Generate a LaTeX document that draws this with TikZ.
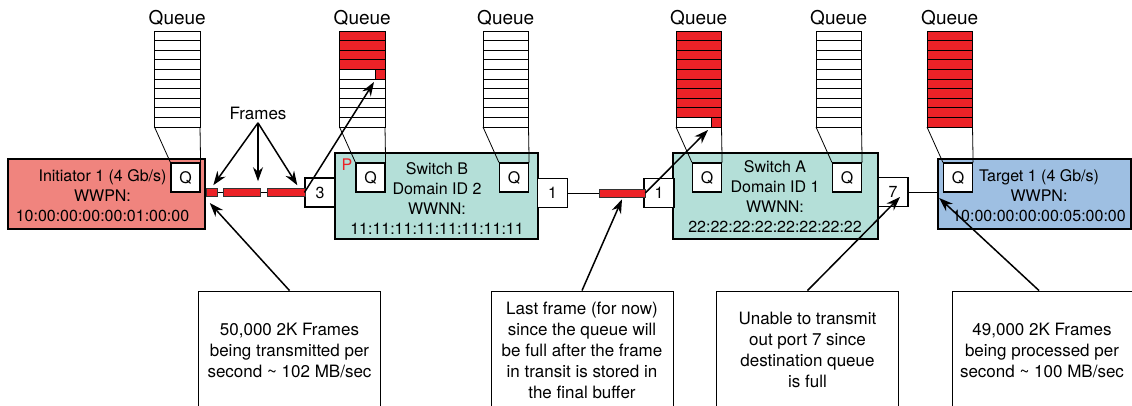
\documentclass[tikz,border=0pt]{standalone}
\usepackage{fontspec}
\setmainfont{TeX Gyre Heros}
\usepackage{tikz}
\usetikzlibrary{positioning,arrows.meta}

\definecolor{initfill}{RGB}{240,132,126}
\definecolor{swfill}{RGB}{180,223,216}
\definecolor{tgtfill}{RGB}{158,191,226}
\definecolor{frred}{RGB}{236,34,39}

\newcommand{\devfont}{\fontsize{16}{20}\selectfont}
\newcommand{\calfont}{\fontsize{17}{21}\selectfont}
\newcommand{\qfont}{\fontsize{19}{22}\selectfont}

\tikzset{
  device/.style={draw, line width=1.6pt, inner sep=0pt},
  devtext/.style={align=center, font=\devfont},
  qbox/.style={draw, fill=white, line width=1.2pt, minimum width=29pt, minimum height=29pt, inner sep=0pt, font=\devfont},
  portbox/.style={qbox, minimum width=30pt},
  frm/.style={draw=black!80, fill=frred, line width=0.6pt, minimum height=8pt, inner sep=0pt},
  qline/.style={line width=0.8pt},
  link/.style={line width=0.8pt},
  pointer/.style={line width=1.5pt, -{Stealth[length=14pt,width=10pt]}},
  callout/.style={draw, line width=0.9pt, minimum width=182pt, minimum height=118pt, inner sep=0pt, align=center, font=\calfont},
}

% #1 Q node, #2 x of Q centre, #3 full rows, #4 part-filled slot (1/0)
\newcommand{\drawqueue}[4]{%
  \pgfmathsetmacro{\ql}{#2-31}
  \pgfmathsetmacro{\qr}{#2+14.5}
  \node[font=\qfont] at ({(\ql+\qr)/2},18) {Queue};
  \foreach \r in {0,...,9}{
    \pgfmathsetmacro{\qt}{31+9.6*\r}
    \ifnum\r<#3\relax \def\qfill{frred}\else \def\qfill{white}\fi
    \draw[qline, fill=\qfill] (\ql,\qt) rectangle (\qr,\qt+9.6);
  }
  \ifnum#4=1\relax
    \draw[qline, fill=frred] (\qr-10,31+9.6*#3) rectangle (\qr,40.6+9.6*#3);
  \fi
  \coordinate (#1-slot) at (\qr-10,40.6+9.6*#3);
  \draw[qline] (\ql,127) -- (#1.north west);
  \draw[qline] (\qr,127) -- (#1.north east);
}

\begin{document}
\begin{tikzpicture}[x=1pt,y=-1pt]
  \useasboundingbox (0,0) rectangle (1132,406);

  \node[device, fill=initfill, minimum width=197pt, minimum height=70pt] (init) at (106.5,194) {};
  \node[device, fill=swfill, minimum width=203pt, minimum height=86pt] (swB) at (436.5,196) {};
  \node[device, fill=swfill, minimum width=205pt, minimum height=86pt] (swA) at (775.5,196) {};
  \node[device, fill=tgtfill, minimum width=193pt, minimum height=70pt] (tgt) at (1034.5,194) {};

  \node[devtext] (initTxt) at (102.5,196) {Initiator 1 (4 Gb/s)\\WWPN:\\10:00:00:00:00:01:00:00};
  \node[devtext] (swBTxt) at (437,199) {Switch B\\Domain ID 2\\WWNN:\\11:11:11:11:11:11:11:11};
  \node[devtext] (swATxt) at (775,196.5) {Switch A\\Domain ID 1\\WWNN:\\22:22:22:22:22:22:22:22};
  \node[devtext] (tgtTxt) at (1039,196) {Target 1 (4 Gb/s)\\WWPN:\\10:00:00:00:00:05:00:00};
  \node[font=\devfont, text=frred] (pMark) at (347,165) {P};

  \node[portbox] (p3) at (320,192.5) {3};
  \node[portbox] (pB1) at (552.5,193) {1};
  \node[portbox] (pA1) at (659,193) {1};
  \node[portbox] (p7) at (893,192) {7};

  \node[qbox] (qI) at (185.5,177.5) {Q};
  \node[qbox] (qB1) at (370.5,177.5) {Q};
  \node[qbox] (qB2) at (514,177.5) {Q};
  \node[qbox] (qA1) at (707,177.5) {Q};
  \node[qbox] (qA2) at (847,177.5) {Q};
  \node[qbox] (qT) at (958,177.5) {Q};

  \drawqueue{qI}{185.5}{0}{0}
  \drawqueue{qB1}{370.5}{4}{1}
  \drawqueue{qB2}{514}{0}{0}
  \drawqueue{qA1}{707}{9}{1}
  \drawqueue{qA2}{847}{0}{0}
  \drawqueue{qT}{958}{10}{0}

  \draw[link] (init.east |- p3.west) -- (p3.west);
  \draw[link] (pB1.east) -- (pA1.west);
  \draw[link] (p7.east) -- (tgt.west |- p7.east);

  \node[frm, minimum width=11pt] (f1) at (211.5,192.5) {};
  \node[frm, minimum width=37pt] (f2) at (241.5,192.5) {};
  \node[frm, minimum width=38pt] (f3) at (286,192.5) {};
  \node[frm, minimum width=46pt] (f4) at (622,193) {};

  \node[font=\calfont] (frLbl) at (258,113) {Frames};
  \draw[pointer] (frLbl.south) -- ([xshift=-4pt,yshift=3pt]f1.north east);
  \draw[pointer] (frLbl.south) -- ([yshift=7pt]frLbl.south |- f2.north);
  \draw[pointer] (frLbl.south) -- ([xshift=-8pt,yshift=3pt]f3.north east);

  \draw[pointer] (p3.west) -- ([xshift=-1pt,yshift=-3pt]qB1-slot);
  \draw[pointer] (f4.east) -- ([xshift=-3.5pt,yshift=-3pt]qA1-slot);

  \node[callout] (c1) at (289.5,350) {50,000 2K Frames\\being transmitted per\\second \textasciitilde{} 102 MB/sec};
  \node[callout] (c2) at (582,350) {Last frame (for now)\\since the queue will\\be full after the frame\\in transit is stored in\\the final buffer};
  \node[callout] (c3) at (807.5,350) {Unable to transmit\\out port 7 since\\destination queue\\is full};
  \node[callout, minimum width=180pt] (c4) at (1042,350) {49,000 2K Frames\\being processed per\\second \textasciitilde{} 100 MB/sec};

  \draw[pointer] (c1.north) -- ([xshift=4pt,yshift=-9pt]init.east);
  \draw[pointer] (c2.north) -- ([yshift=-2pt]f4.south);
  \draw[pointer] (c3.north) -- ([xshift=7pt,yshift=-5pt]p7.center);
  \draw[pointer] ([xshift=-3pt]c4.north) -- ([xshift=2pt,yshift=-4pt]tgt.west);
\end{tikzpicture}
\end{document}
